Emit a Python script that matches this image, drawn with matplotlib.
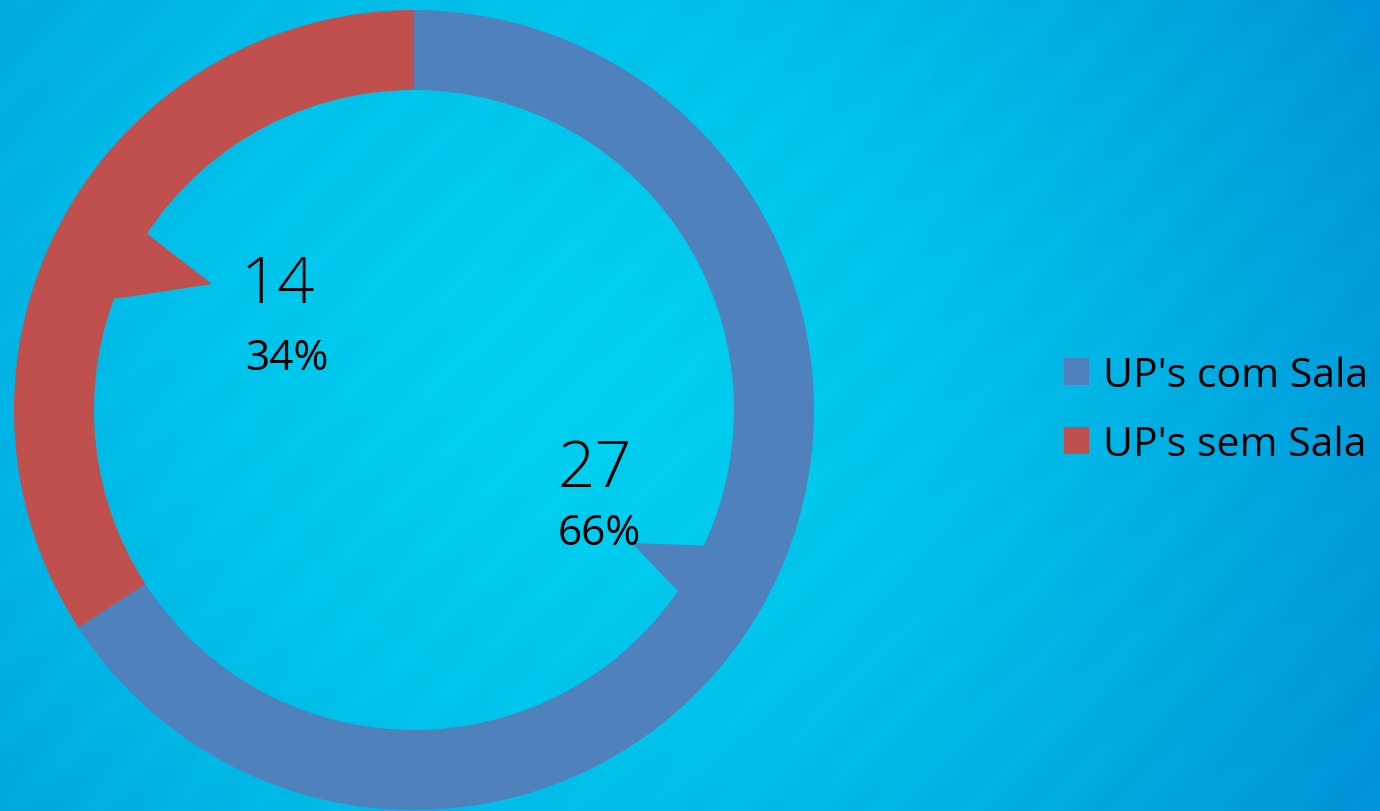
import numpy as np
import matplotlib.pyplot as plt
from matplotlib.patches import Polygon

# Données
categories = ["UP's com Sala", "UP's sem Sala"]
valeurs = [27, 14]
pourcentages = ["66%", "34%"]
couleurs = ['#4f81bd', '#c0504d']

W, H = 1380, 812
fig = plt.figure(figsize=(W / 100, H / 100), dpi=100)
ax = fig.add_axes([0, 0, 1, 1])
ax.set_xlim(0, W)
ax.set_ylim(0, H)
ax.axis('off')

# Fond : dégradé radial + légères rayures diagonales
xx, yy = np.meshgrid(np.arange(W), np.arange(H))
d = np.hypot(xx - 560, (H - yy) - 430) / 900
d = np.clip(d, 0, 1)
c0 = np.array([0, 208, 240]) / 255
c1 = np.array([0, 148, 216]) / 255
img = c0 + (c1 - c0) * d[..., None] ** 1.6
stripes = 0.006 * np.sin((xx + yy) * 2 * np.pi / 80)
img = np.clip(img + stripes[..., None], 0, 1)
ax.imshow(img, extent=[0, W, 0, H], origin='upper', zorder=0, aspect='auto')

# Anneau
cx, cy = 414, 401
r_out, largeur = 400, 80
r_in = r_out - largeur
wedges, _ = ax.pie(valeurs, colors=couleurs, radius=r_out, center=(cx, cy),
                   startangle=90, counterclock=False, frame=True,
                   wedgeprops=dict(width=largeur, linewidth=0))
ax.set_xlim(0, W)
ax.set_ylim(0, H)
ax.set_aspect('equal')

# Bulles des étiquettes (pointe vers le texte)
def bulle(a1, a2, pointe, couleur):
    def p(a, r):
        t = np.deg2rad(a)
        return (cx + r * np.cos(t), cy + r * np.sin(t))
    pts = [pointe, p(a1, r_in - 2), p(a1, r_in + 20), p(a2, r_in + 20), p(a2, r_in - 2)]
    ax.add_patch(Polygon(pts, closed=True, facecolor=couleur, edgecolor='none', zorder=3))

bulle(146.6, 159.5, (212, H - 285), couleurs[1])
bulle(-25.2, -34.4, (632, H - 544), couleurs[0])

# Étiquettes
police = 'Open Sans'
ax.text(241, H - 303, str(valeurs[1]), fontsize=47, family=police, weight='light',
        va='baseline', ha='left', color='black', zorder=4)
ax.text(245, H - 370, pourcentages[1], fontsize=30.5, family=police,
        va='baseline', ha='left', color='black', zorder=4)
ax.text(557, H - 487, str(valeurs[0]), fontsize=47, family=police, weight='light',
        va='baseline', ha='left', color='black', zorder=4)
ax.text(558, H - 545, pourcentages[0], fontsize=30.5, family=police,
        va='baseline', ha='left', color='black', zorder=4)

# Légende
leg = ax.legend(wedges, categories, loc='center left', bbox_to_anchor=(1064 / W, (H - 411) / H),
                frameon=False, prop={'family': police, 'size': 29.5},
                borderpad=0, borderaxespad=0,
                handlelength=0.62, handleheight=0.62, handletextpad=0.32, labelspacing=0.7)

fig.savefig('out.png', dpi=100)
